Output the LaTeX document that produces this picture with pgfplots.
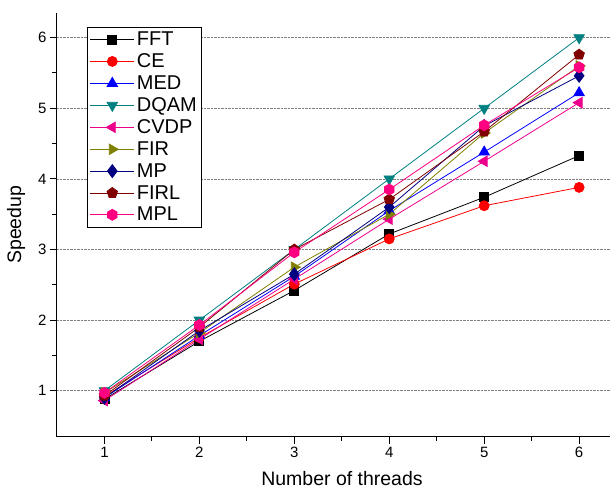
\documentclass[border=0pt]{standalone}
\usepackage{fontspec}
\setmainfont{Liberation Sans}
\usepackage{pgfplots}
\pgfplotsset{compat=1.18}
\usetikzlibrary{plotmarks}

\definecolor{cteal}{RGB}{0,128,128}
\definecolor{colive}{RGB}{128,128,0}
\definecolor{cnavy}{RGB}{0,0,128}
\definecolor{cmaroon}{RGB}{128,0,0}
\definecolor{cpink}{RGB}{255,0,128}

\pgfdeclareplotmark{hexagon*}{%
  \pgfpathmoveto{\pgfqpointpolar{30}{\pgfplotmarksize}}%
  \pgfpathlineto{\pgfqpointpolar{90}{\pgfplotmarksize}}%
  \pgfpathlineto{\pgfqpointpolar{150}{\pgfplotmarksize}}%
  \pgfpathlineto{\pgfqpointpolar{210}{\pgfplotmarksize}}%
  \pgfpathlineto{\pgfqpointpolar{270}{\pgfplotmarksize}}%
  \pgfpathlineto{\pgfqpointpolar{330}{\pgfplotmarksize}}%
  \pgfpathclose
  \pgfusepathqfillstroke}

\begin{document}
\begin{tikzpicture}
\begin{axis}[
    scale only axis,
    width=554pt, height=424pt,
    xmin=0.5, xmax=6.33,
    ymin=0.35, ymax=6.35,
    axis x line*=bottom, axis y line*=left,
    axis line style={line width=1.1pt},
    xtick={1,2,3,4,5,6}, ytick={1,2,3,4,5,6},
    minor x tick num=1, minor y tick num=1,
    tick align=outside,
    major tick length=7pt, minor tick length=4.5pt,
    tick style={line width=1pt, black},
    ymajorgrids,
    major grid style={densely dotted, gray, line width=0.7pt},
    /pgf/number format/assume math mode=true,
    tick label style={font=\fontsize{15}{18}\selectfont},
    xlabel={Number of threads},
    ylabel={Speedup},
    label style={font=\fontsize{19.5}{22}\selectfont},
    xlabel style={at={(axis description cs:0.515,-0.1)}, anchor=center},
    ylabel style={at={(axis description cs:-0.074,0.5)}, anchor=center},
    legend style={at={(0.054,0.967)}, anchor=north west,
        font=\fontsize{20}{22}\selectfont, draw=black, line width=0.8pt,
        row sep=2.6pt, inner sep=2.5pt,
        cells={anchor=west}},
    legend image code/.code={%
        \draw[mark repeat=2,mark phase=2] plot coordinates {(0cm,0cm)(0.78cm,0cm)(1.56cm,0cm)};},
    every axis plot/.append style={line width=0.8pt},
]
\addplot[black, mark=square*, mark size=4.5pt, mark options={solid}] coordinates {(1,0.88) (2,1.70) (3,2.42) (4,3.22) (5,3.74) (6,4.33)};
\addlegendentry{FFT}
\addplot[red, mark=*, mark size=5pt] coordinates {(1,0.92) (2,1.75) (3,2.51) (4,3.15) (5,3.62) (6,3.88)};
\addlegendentry{CE}
\addplot[blue, mark=triangle*, mark size=6pt] coordinates {(1,0.90) (2,1.78) (3,2.62) (4,3.55) (5,4.38) (6,5.22)};
\addlegendentry{MED}
\addplot[cteal, mark=triangle*, mark size=6pt, mark options={rotate=180}] coordinates {(1,1.00) (2,2.00) (3,3.00) (4,4.00) (5,5.00) (6,6.00)};
\addlegendentry{DQAM}
\addplot[magenta, mark=triangle*, mark size=6pt, mark options={rotate=90}] coordinates {(1,0.86) (2,1.73) (3,2.58) (4,3.43) (5,4.25) (6,5.08)};
\addlegendentry{CVDP}
\addplot[colive, mark=triangle*, mark size=6pt, mark options={rotate=-90}] coordinates {(1,0.97) (2,1.82) (3,2.75) (4,3.50) (5,4.65) (6,5.60)};
\addlegendentry{FIR}
\addplot[cnavy, mark=diamond*, mark size=6.5pt] coordinates {(1,0.90) (2,1.85) (3,2.65) (4,3.60) (5,4.75) (6,5.46)};
\addlegendentry{MP}
\addplot[cmaroon, mark=pentagon*, mark size=5.5pt] coordinates {(1,0.93) (2,1.90) (3,3.00) (4,3.71) (5,4.67) (6,5.76)};
\addlegendentry{FIRL}
\addplot[cpink, mark=hexagon*, mark size=5.5pt] coordinates {(1,0.97) (2,1.93) (3,2.96) (4,3.85) (5,4.76) (6,5.58)};
\addlegendentry{MPL}
\end{axis}
\useasboundingbox ([xshift=-57pt,yshift=-58pt]current axis.south west) rectangle ([yshift=13pt]current axis.north east);
\end{tikzpicture}
\end{document}
